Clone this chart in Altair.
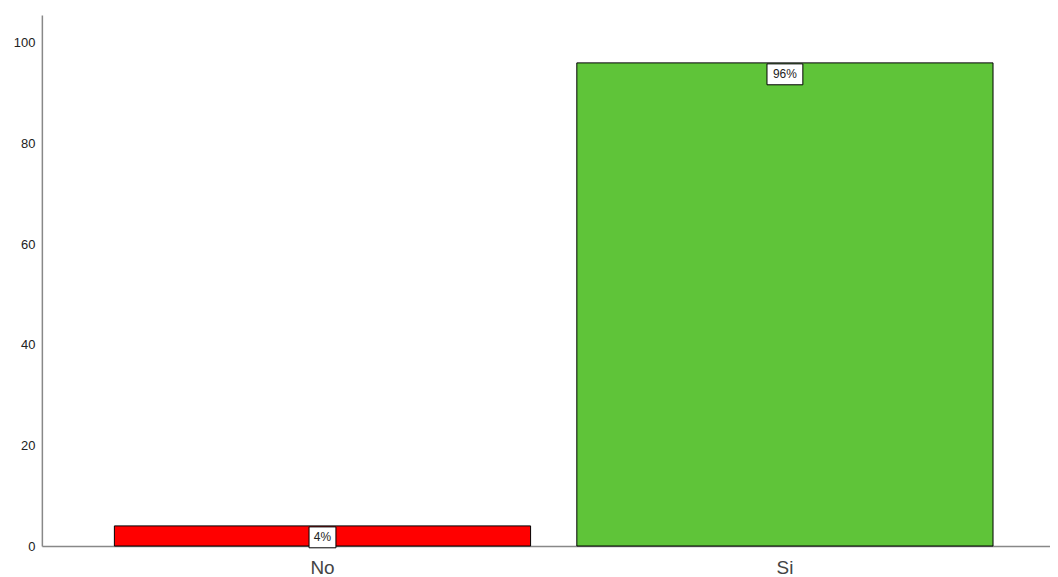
import altair as alt
import pandas as pd

categories = ["No", "Si"]
values = [4, 96]
labels = ["4%", "96%"]
colors = ["#ff0000", "#5fc439"]

df = pd.DataFrame({"cat": categories, "val": values, "label": labels})

x = alt.X(
    "cat:N", sort=categories, title=None,
    scale=alt.Scale(paddingInner=0.1, paddingOuter=0.14, align=0.56),
    axis=alt.Axis(labelAngle=0, ticks=False, labelFontSize=19, labelColor="#444",
                  labelFont="Liberation Sans", domainColor="#888", domainWidth=1.5,
                  labelPadding=13, grid=False),
)
y = alt.Y(
    "val:Q", title=None,
    scale=alt.Scale(domain=[0, 105.5], nice=False),
    axis=alt.Axis(values=[0, 20, 40, 60, 80, 100], ticks=False, grid=False,
                  labelFontSize=13, labelColor="#222", labelFont="Liberation Sans",
                  labelPadding=7, domainColor="#888", domainWidth=1.5),
)

base = alt.Chart(df)

bars = base.mark_bar(stroke="black", strokeWidth=1).encode(
    x=x, y=y,
    color=alt.Color("cat:N", scale=alt.Scale(domain=categories, range=colors), legend=None),
)

boxes = base.transform_calculate(
    hw="length(datum.label) * 4.5 + 4.5",
).transform_calculate(
    path="'M-1,-' + (10.5 / datum.hw) + 'L1,-' + (10.5 / datum.hw) + 'L1,' + (10.5 / datum.hw) + 'L-1,' + (10.5 / datum.hw) + 'Z'",
    sz="(2 * datum.hw) * (2 * datum.hw)",
).mark_point(filled=True, fill="white", stroke="black", strokeWidth=1, opacity=1, yOffset=11.5).encode(
    x=x, y=y,
    shape=alt.Shape("path:N", scale=None),
    size=alt.Size("sz:Q", scale=None),
)

texts = base.mark_text(yOffset=11.5, fontSize=12, color="#222", baseline="middle",
                       font="Liberation Sans").encode(
    x=x, y=y, text="label:N",
)

chart = alt.layer(bars, boxes, texts).properties(
    width=1012, height=533,
    padding={"left": 34, "top": 6, "right": 0, "bottom": 30},
    autosize="none",
).configure_view(stroke=None).configure_axis(grid=False)

chart.save("out.html", embed_options={"renderer": "svg", "actions": False})
